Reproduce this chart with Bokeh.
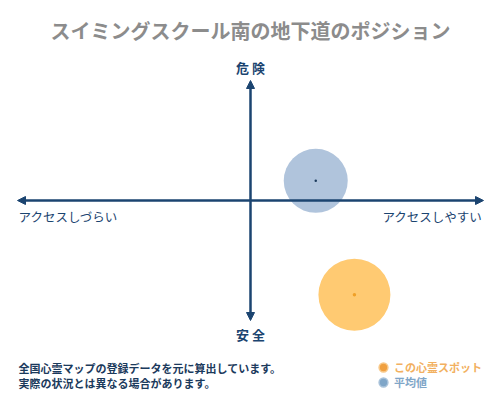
from bokeh.plotting import figure
from bokeh.models import Range1d, Label, Arrow, NormalHead, Legend, LegendItem, ColumnDataSource
from bokeh.embed import file_html
from bokeh.resources import INLINE

# ---- data ----
title_text = "スイミングスクール南の地下道のポジション"
axis_top = "危 険"
axis_bottom = "安 全"
axis_left = "アクセスしづらい"
axis_right = "アクセスしやすい"
series_names = ["この心霊スポット", "平均値"]
access_values = [44.6, 28.0]      # x: -100 (hard to access) .. 100 (easy)
danger_values = [-78.6, 16.4]     # y: -100 (safe) .. 100 (dangerous)
note_lines = ["全国心霊マップの登録データを元に算出しています。",
              "実際の状況とは異なる場合があります。"]

FONT = "Noto Sans CJK JP"
NAVY = "#1b4470"
W, H = 500, 400
PX_X, PX_Y = 2.33, 1.2   # pixels per unit

p = figure(width=W, height=H, output_backend="svg", toolbar_location=None,
           x_range=Range1d(-(W / 2) / PX_X, (W / 2) / PX_X),
           y_range=Range1d(-(H / 2) / PX_Y, (H / 2) / PX_Y),
           min_border=0, outline_line_color=None)
p.axis.visible = False
p.grid.visible = False
p.background_fill_color = "white"

# bubbles
spot = ColumnDataSource(dict(x=[access_values[0]], y=[danger_values[0]]))
avg = ColumnDataSource(dict(x=[access_values[1]], y=[danger_values[1]]))
p.scatter("x", "y", source=avg, size=64, fill_color="#b0c4dc", line_color=None)
p.scatter("x", "y", source=spot, size=72, fill_color="#ffca72", line_color=None)
p.scatter("x", "y", source=avg, size=2.5, fill_color="#1b3a5c", line_color=None)
p.scatter("x", "y", source=spot, size=3.5, fill_color="#f0a028", line_color=None)

# axes arrows
for xs, ys, xe, ye in [(-100, 0, 100, 0), (0, -100, 0, 100)]:
    p.add_layout(Arrow(x_start=xs, y_start=ys, x_end=xe, y_end=ye,
                       line_color=NAVY, line_width=2.5,
                       start=NormalHead(size=8, fill_color=NAVY, line_color=NAVY, line_width=1),
                       end=NormalHead(size=8, fill_color=NAVY, line_color=NAVY, line_width=1)))

def lab(text, x, y, size, color, align="left", weight="bold"):
    p.add_layout(Label(x=x, y=y, x_units="screen", y_units="screen", text=text,
                       text_font=FONT, text_font_size=f"{size}px", text_color=color,
                       text_font_style=weight, text_align=align, text_baseline="middle"))

lab(title_text, W / 2, H - 30, 20, "#8c8c8c", "center")
lab(axis_top, W / 2, H - 67, 13, NAVY, "center")
lab(axis_bottom, W / 2, H - 334, 13, NAVY, "center")
lab(axis_left, 18, H - 216, 12.5, NAVY, "left", "normal")
lab(axis_right, W - 18, H - 216, 12.5, NAVY, "right", "normal")
lab(note_lines[0], 18, H - 367, 11, "#1b3a5c")
lab(note_lines[1], 18, H - 382, 11, "#1b3a5c")

# legend glyph renderers (zero-size marks at the bubble centres, shown only in legends)
r_spot = p.scatter("x", "y", source=spot, size=0, fill_color="#f0a040", line_color="#f8c888", line_width=1.5)
r_avg = p.scatter("x", "y", source=avg, size=0, fill_color="#7fa6c8", line_color="#a8c2da", line_width=1.5)

for r, name, color, cy in [(r_spot, series_names[0], "#f2b060", H - 367), (r_avg, series_names[1], "#7fa6c8", H - 382)]:
    lg = Legend(items=[LegendItem(label=name, renderers=[r])], location=(372, cy - 11),
                glyph_width=22, glyph_height=22, label_standoff=-4, padding=0, margin=0,
                border_line_color=None, background_fill_alpha=0, label_text_font=FONT,
                label_text_font_size="11px", label_text_color=color, label_height=22,
                label_text_font_style="bold", spacing=0)
    p.add_layout(lg, "center")

open("out.html", "w").write(file_html(p, INLINE))
